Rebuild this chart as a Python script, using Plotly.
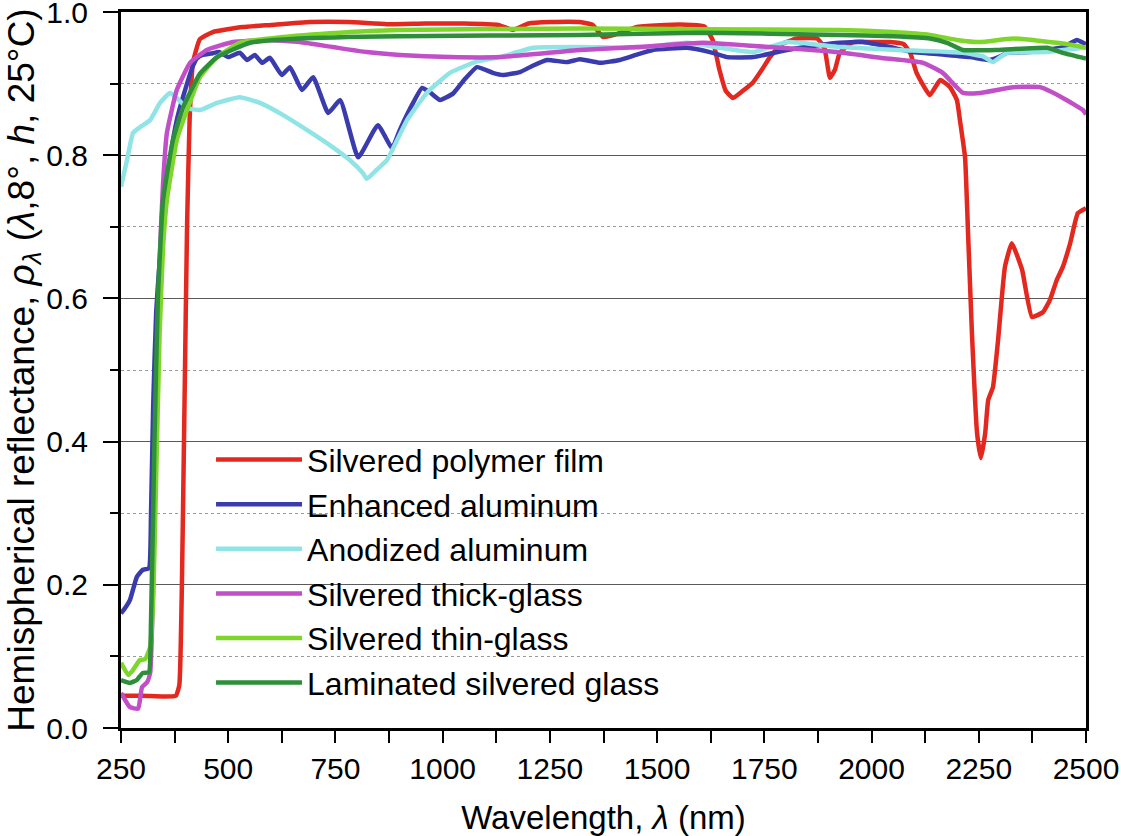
import plotly.graph_objects as go

# ---------------- data ----------------
series_names = ["Silvered polymer film", "Enhanced aluminum", "Anodized aluminum",
                "Silvered thick-glass", "Silvered thin-glass", "Laminated silvered glass"]
series_colors = ["#e3281f", "#3a3cad", "#90e4e6", "#c04fc8", "#7fd62a", "#2e8f3a"]

red_x = [250, 300, 350, 378, 386, 392, 398, 404, 410, 418, 434, 464, 534, 600, 690, 780, 870,
         960, 1050, 1130, 1164, 1200, 1250, 1320, 1350, 1374, 1400, 1453, 1520, 1580, 1610, 1630,
         1645, 1660, 1677, 1700, 1724, 1745, 1763, 1790, 1826, 1873, 1890, 1903, 1915, 1926, 1957,
         2000, 2043, 2075, 2090, 2105, 2136, 2160, 2183, 2199, 2206, 2218, 2225, 2234, 2246, 2255,
         2265, 2272, 2283, 2295, 2311, 2327, 2351, 2374, 2400, 2416, 2432, 2446, 2463, 2481, 2500]
red_y = [0.045, 0.045, 0.044, 0.045, 0.06, 0.2, 0.45, 0.7, 0.85, 0.93, 0.962, 0.972, 0.979, 0.982,
         0.986, 0.986, 0.983, 0.984, 0.984, 0.982, 0.975, 0.984, 0.986, 0.986, 0.982, 0.965, 0.968,
         0.979, 0.982, 0.982, 0.98, 0.96, 0.92, 0.89, 0.88, 0.89, 0.902, 0.92, 0.937, 0.955, 0.963,
         0.963, 0.95, 0.908, 0.92, 0.943, 0.958, 0.958, 0.958, 0.955, 0.943, 0.915, 0.884, 0.905,
         0.895, 0.877, 0.849, 0.797, 0.691, 0.552, 0.412, 0.377, 0.412, 0.458, 0.476, 0.542, 0.644,
         0.677, 0.640, 0.574, 0.581, 0.598, 0.626, 0.644, 0.677, 0.719, 0.726]

blue_x = [250, 260, 271, 287, 301, 315, 320, 325, 332, 340, 348, 356, 364, 380, 404, 418, 427, 440,
          460, 480, 500, 527, 544, 562, 579, 597, 625, 644, 672, 698, 733, 761, 803, 849, 882, 900,
          931, 952, 970, 994, 1024, 1050, 1080, 1117, 1141, 1180, 1210, 1243, 1290, 1320, 1367,
          1413, 1450, 1490, 1570, 1623, 1663, 1724, 1803, 1880, 1926, 1980, 2043, 2097, 2176, 2230,
          2276, 2300, 2316, 2369, 2446, 2479, 2493, 2500]
blue_y = [0.16, 0.168, 0.179, 0.211, 0.221, 0.223, 0.3, 0.45, 0.58, 0.65, 0.69, 0.75, 0.793, 0.849,
          0.90, 0.925, 0.935, 0.94, 0.942, 0.944, 0.937, 0.943, 0.933, 0.940, 0.929, 0.936, 0.912,
          0.923, 0.891, 0.909, 0.859, 0.877, 0.797, 0.842, 0.810, 0.835, 0.873, 0.894, 0.888, 0.877,
          0.886, 0.905, 0.923, 0.915, 0.912, 0.916, 0.925, 0.933, 0.930, 0.934, 0.929, 0.933, 0.94,
          0.947, 0.950, 0.944, 0.937, 0.937, 0.947, 0.954, 0.957, 0.958, 0.951, 0.944, 0.940, 0.937,
          0.933, 0.938, 0.943, 0.944, 0.951, 0.961, 0.957, 0.955]

cyan_x = [250, 264, 278, 294, 318, 341, 364, 380, 404, 434, 474, 527, 574, 628, 684, 744, 784, 814,
          823, 847, 870, 917, 963, 1017, 1080, 1134, 1211, 1320, 1453, 1570, 1647, 1724, 1803, 1926,
          2059, 2213, 2260, 2283, 2300, 2316, 2409, 2493, 2500]
cyan_y = [0.756, 0.793, 0.831, 0.839, 0.849, 0.873, 0.887, 0.880, 0.866, 0.863, 0.873, 0.881, 0.873,
          0.856, 0.835, 0.811, 0.793, 0.775, 0.767, 0.780, 0.793, 0.849, 0.887, 0.915, 0.931, 0.937,
          0.950, 0.951, 0.950, 0.957, 0.950, 0.944, 0.958, 0.951, 0.947, 0.943, 0.938, 0.930, 0.937,
          0.943, 0.944, 0.950, 0.950]

magenta_x = [250, 271, 290, 299, 311, 318, 325, 332, 340, 348, 357, 380, 411, 450, 511, 590, 667,
             744, 823, 900, 1017, 1134, 1320, 1453, 1607, 1763, 1919, 2020, 2120, 2166, 2213, 2253,
             2330, 2393, 2446, 2493, 2500]
magenta_y = [0.049, 0.029, 0.027, 0.057, 0.064, 0.077, 0.2, 0.45, 0.65, 0.76, 0.831, 0.891, 0.929,
             0.947, 0.958, 0.961, 0.958, 0.951, 0.944, 0.940, 0.937, 0.937, 0.947, 0.951, 0.957,
             0.951, 0.944, 0.936, 0.929, 0.915, 0.887, 0.887, 0.895, 0.895, 0.880, 0.863, 0.857]

lgreen_x = [250, 267, 278, 294, 306, 318, 325, 332, 340, 348, 357, 380, 404, 434, 474, 527, 628, 784,
            900, 1320, 1600, 1926, 2050, 2136, 2199, 2253, 2330, 2446, 2493, 2500]
lgreen_y = [0.091, 0.074, 0.081, 0.095, 0.096, 0.113, 0.179, 0.35, 0.55, 0.67, 0.737, 0.821, 0.863,
            0.909, 0.937, 0.957, 0.965, 0.972, 0.975, 0.977, 0.976, 0.975, 0.972, 0.968, 0.961,
            0.958, 0.963, 0.956, 0.951, 0.95]

dgreen_x = [250, 271, 287, 301, 315, 320, 328, 336, 348, 371, 395, 434, 474, 551, 667, 900, 1320,
            1600, 1926, 2050, 2136, 2176, 2213, 2293, 2409, 2446, 2493, 2500]
dgreen_y = [0.067, 0.063, 0.067, 0.077, 0.078, 0.15, 0.4, 0.6, 0.737, 0.821, 0.867, 0.914, 0.937,
            0.957, 0.963, 0.966, 0.968, 0.971, 0.968, 0.966, 0.963, 0.957, 0.947, 0.947, 0.950,
            0.943, 0.936, 0.935]

x_ticks = [250, 500, 750, 1000, 1250, 1500, 1750, 2000, 2250, 2500]
y_ticks = [0.0, 0.2, 0.4, 0.6, 0.8, 1.0]
y_ticklabels = ["0.0", "0.2", "0.4", "0.6", "0.8", "1.0"]

all_x = [red_x, blue_x, cyan_x, magenta_x, lgreen_x, dgreen_x]
all_y = [red_y, blue_y, cyan_y, magenta_y, lgreen_y, dgreen_y]

# ---------------- figure ----------------
FONT = "Liberation Sans, Arial, sans-serif"
fig = go.Figure()
for name, color, xs, ys in zip(series_names, series_colors, all_x, all_y):
    fig.add_trace(go.Scatter(x=xs, y=ys, mode="lines", name=name,
                             line=dict(color=color, width=4.5, shape="spline", smoothing=0.4)))

# white backing of the legend block (hides grid lines, sits under the traces)
fig.add_shape(type="rect", xref="paper", yref="paper",
              x0=0.0798, x1=0.5917, y0=0.032, y1=0.4078,
              fillcolor="white", line=dict(width=0), layer="between")

fig.update_layout(
    width=1121, height=836,
    margin=dict(l=121, r=35, t=12, b=108, autoexpand=False),
    paper_bgcolor="white", plot_bgcolor="white",
    font=dict(family=FONT, size=30, color="black"),
    showlegend=True,
    legend=dict(x=0.0933, y=0.413, xanchor="left", yanchor="top",
                bgcolor="rgba(255,255,255,0)", borderwidth=0,
                font=dict(family=FONT, size=32, color="black"),
                itemwidth=86, tracegroupgap=0),
)
fig.update_xaxes(
    range=[250, 2500], tickvals=x_ticks, ticktext=[str(v) for v in x_ticks],
    automargin=False, ticklabeloverflow="allow",
    showgrid=False, zeroline=False,
    showline=True, linecolor="black", linewidth=3, mirror=True,
    ticks="outside", ticklen=12, tickwidth=2, tickcolor="black",
    minor=dict(dtick=125, tick0=250, ticks="outside", ticklen=12, tickwidth=2, tickcolor="black"),
    tickfont=dict(family=FONT, size=30, color="black"),
    title=dict(text="Wavelength, <i>λ</i> (nm)", font=dict(family=FONT, size=33, color="black"),
               standoff=25),
)
fig.update_yaxes(
    range=[0, 1.0], tickvals=y_ticks, ticktext=y_ticklabels,
    automargin=False, ticklabeloverflow="allow", ticklabelstandoff=9,
    showgrid=True, gridcolor="#5a5a5a", gridwidth=1, zeroline=False,
    showline=True, linecolor="black", linewidth=3, mirror=True,
    ticks="outside", ticklen=15, tickwidth=2, tickcolor="black",
    minor=dict(dtick=0.1, tick0=0, ticks="outside", ticklen=8, tickwidth=2, tickcolor="black",
               showgrid=True, gridcolor="#9a9a9a", griddash="dot", gridwidth=1),
    tickfont=dict(family=FONT, size=30, color="black"),
    title=dict(text="Hemispherical reflectance, <i>ρ</i><sub><i>λ</i></sub> (<i>λ</i>,8°, <i>h</i>, 25°C)",
               font=dict(family=FONT, size=37, color="black"), standoff=0),
)

# remove the browser's default page margin so the figure fills the window exactly
fig.write_html("out.html", config={"displayModeBar": False},
               post_script="document.body.style.margin='0px';")
